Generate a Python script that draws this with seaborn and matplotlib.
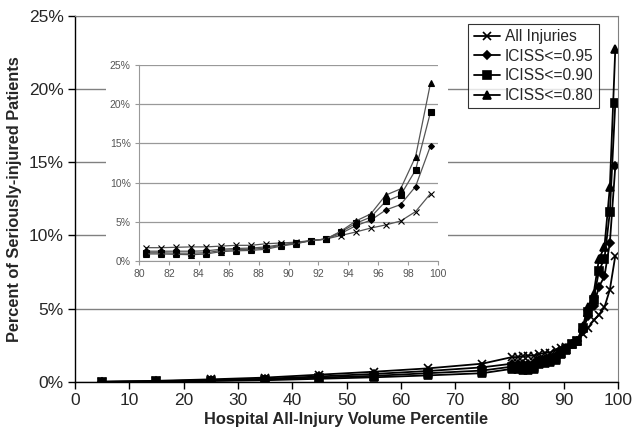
import numpy as np
import pandas as pd
import matplotlib
matplotlib.use("Agg")
import matplotlib.pyplot as plt
import seaborn as sns
from matplotlib.ticker import PercentFormatter

sns.set_style("white")
plt.rcParams['font.family'] = ['Liberation Sans', 'DejaVu Sans']

# Percentile positions
pct = [5, 15, 25, 35, 45, 55, 65, 75,
       80.5, 81.5, 82.5, 83.5, 84.5, 85.5, 86.5, 87.5, 88.5, 89.5,
       90.5, 91.5, 92.5, 93.5, 94.5, 95.5, 96.5, 97.5, 98.5, 99.5]

all_injuries = [0.02, 0.08, 0.18, 0.30, 0.50, 0.70, 0.93, 1.25,
                1.70, 1.70, 1.75, 1.80, 1.80, 1.90, 2.00, 2.00, 2.20, 2.30,
                2.40, 2.60, 2.80, 3.25, 3.70, 4.20, 4.60, 5.10, 6.30, 8.60]
iciss_095 = [0.01, 0.05, 0.13, 0.22, 0.38, 0.55, 0.75, 1.00,
             1.25, 1.25, 1.25, 1.25, 1.30, 1.50, 1.60, 1.65, 1.80, 2.10,
             2.30, 2.60, 2.80, 3.50, 4.50, 5.20, 6.50, 7.20, 9.50, 14.70]
iciss_090 = [0.01, 0.04, 0.10, 0.17, 0.30, 0.42, 0.60, 0.78,
             1.05, 1.05, 1.00, 1.00, 1.05, 1.35, 1.45, 1.50, 1.65, 2.00,
             2.25, 2.60, 2.80, 3.70, 4.80, 5.60, 7.60, 8.40, 11.60, 19.00]
iciss_080 = [0.01, 0.03, 0.07, 0.12, 0.22, 0.32, 0.45, 0.60,
             0.90, 0.90, 0.85, 0.80, 0.90, 1.20, 1.30, 1.35, 1.50, 1.90,
             2.20, 2.60, 2.80, 3.80, 5.10, 6.00, 8.40, 9.20, 13.30, 22.70]

series_names = ["All Injuries", "ICISS<=0.95", "ICISS<=0.90", "ICISS<=0.80"]
series_vals = [all_injuries, iciss_095, iciss_090, iciss_080]
markers = ["x", "D", "s", "^"]
msizes = [6, 4.5, 5.5, 5.5]

x_ticks_main = [0, 10, 20, 30, 40, 50, 60, 70, 80, 90, 100]
y_ticks = [0, 5, 10, 15, 20, 25]
x_ticks_inset = [80, 82, 84, 86, 88, 90, 92, 94, 96, 98, 100]

df = pd.DataFrame({"pct": pct})
for n, v in zip(series_names, series_vals):
    df[n] = v

fig = plt.figure(figsize=(6.32, 4.38), dpi=100)
ax = fig.add_axes([75/632, 1-382/438, 543/632, 366.5/438])

for n, m, ms in zip(series_names, markers, msizes):
    sns.lineplot(data=df, x="pct", y=n, ax=ax, color="black", lw=1.3,
                 marker=m, markersize=ms, markeredgecolor="black",
                 markerfacecolor="black", markeredgewidth=1.2, label=n)

ax.set_xlim(0, 100)
ax.set_ylim(0, 25)
ax.set_xticks(x_ticks_main)
ax.set_yticks(y_ticks)
ax.yaxis.set_major_formatter(PercentFormatter(decimals=0))
ax.grid(axis="y", color="#808080", lw=1.0)
ax.set_axisbelow(True)
for s in ["top", "right"]:
    ax.spines[s].set_color("#808080")
for s in ["left", "bottom"]:
    ax.spines[s].set_color("black")
    ax.spines[s].set_linewidth(1.0)
ax.tick_params(axis="both", direction="out", length=5, width=1, color="black",
               labelsize=12.5, pad=3, bottom=True, left=True)
ax.set_xlabel("Hospital All-Injury Volume Percentile", fontsize=11.8,
              fontweight="bold", labelpad=3)
ax.set_ylabel("Percent of Seriously-injured Patients", fontsize=11.8,
              fontweight="bold", labelpad=5)

leg = ax.legend(loc="upper right", frameon=True, fancybox=False,
                edgecolor="black", fontsize=11.2, handlelength=1.7,
                handletextpad=0.3, borderpad=0.35, labelspacing=0.3,
                borderaxespad=0.0)
leg.get_frame().set_linewidth(0.8)
leg.set_bbox_to_anchor((1 - 19/543, 1 - 8/366.5), transform=ax.transAxes)

# white background behind inset
bg = fig.add_axes([106/632, 1-288/438, (448-106)/632, (288-55)/438])
bg.set_xticks([]); bg.set_yticks([])
for s in bg.spines.values():
    s.set_visible(False)
bg.set_facecolor("white")

ins = fig.add_axes([139/632, 1-261/438, 299/632, 196/438])
ins.set_facecolor("white")
sub = df[df["pct"] > 80]
for n, m, ms in zip(series_names, markers, msizes):
    sns.lineplot(data=sub, x="pct", y=n, ax=ins, color="#555555", lw=0.9,
                 marker=m, markersize=ms - 1.5, markeredgecolor="black",
                 markerfacecolor="black", markeredgewidth=0.8, legend=False)
ins.set_xlim(80, 100)
ins.set_ylim(0, 25)
ins.set_xticks(x_ticks_inset)
ins.set_yticks(y_ticks)
ins.yaxis.set_major_formatter(PercentFormatter(decimals=0))
ins.grid(axis="y", color="#999999", lw=0.9)
ins.set_axisbelow(True)
for s in ["top", "right"]:
    ins.spines[s].set_visible(False)
for s in ["left", "bottom"]:
    ins.spines[s].set_color("#999999")
ins.tick_params(axis="both", direction="out", length=3, width=0.8,
                color="#999999", labelsize=7.5, labelcolor="#555555", pad=3,
                bottom=True, left=True)
ins.set_xlabel("")
ins.set_ylabel("")

fig.savefig("out.png", dpi=100)
